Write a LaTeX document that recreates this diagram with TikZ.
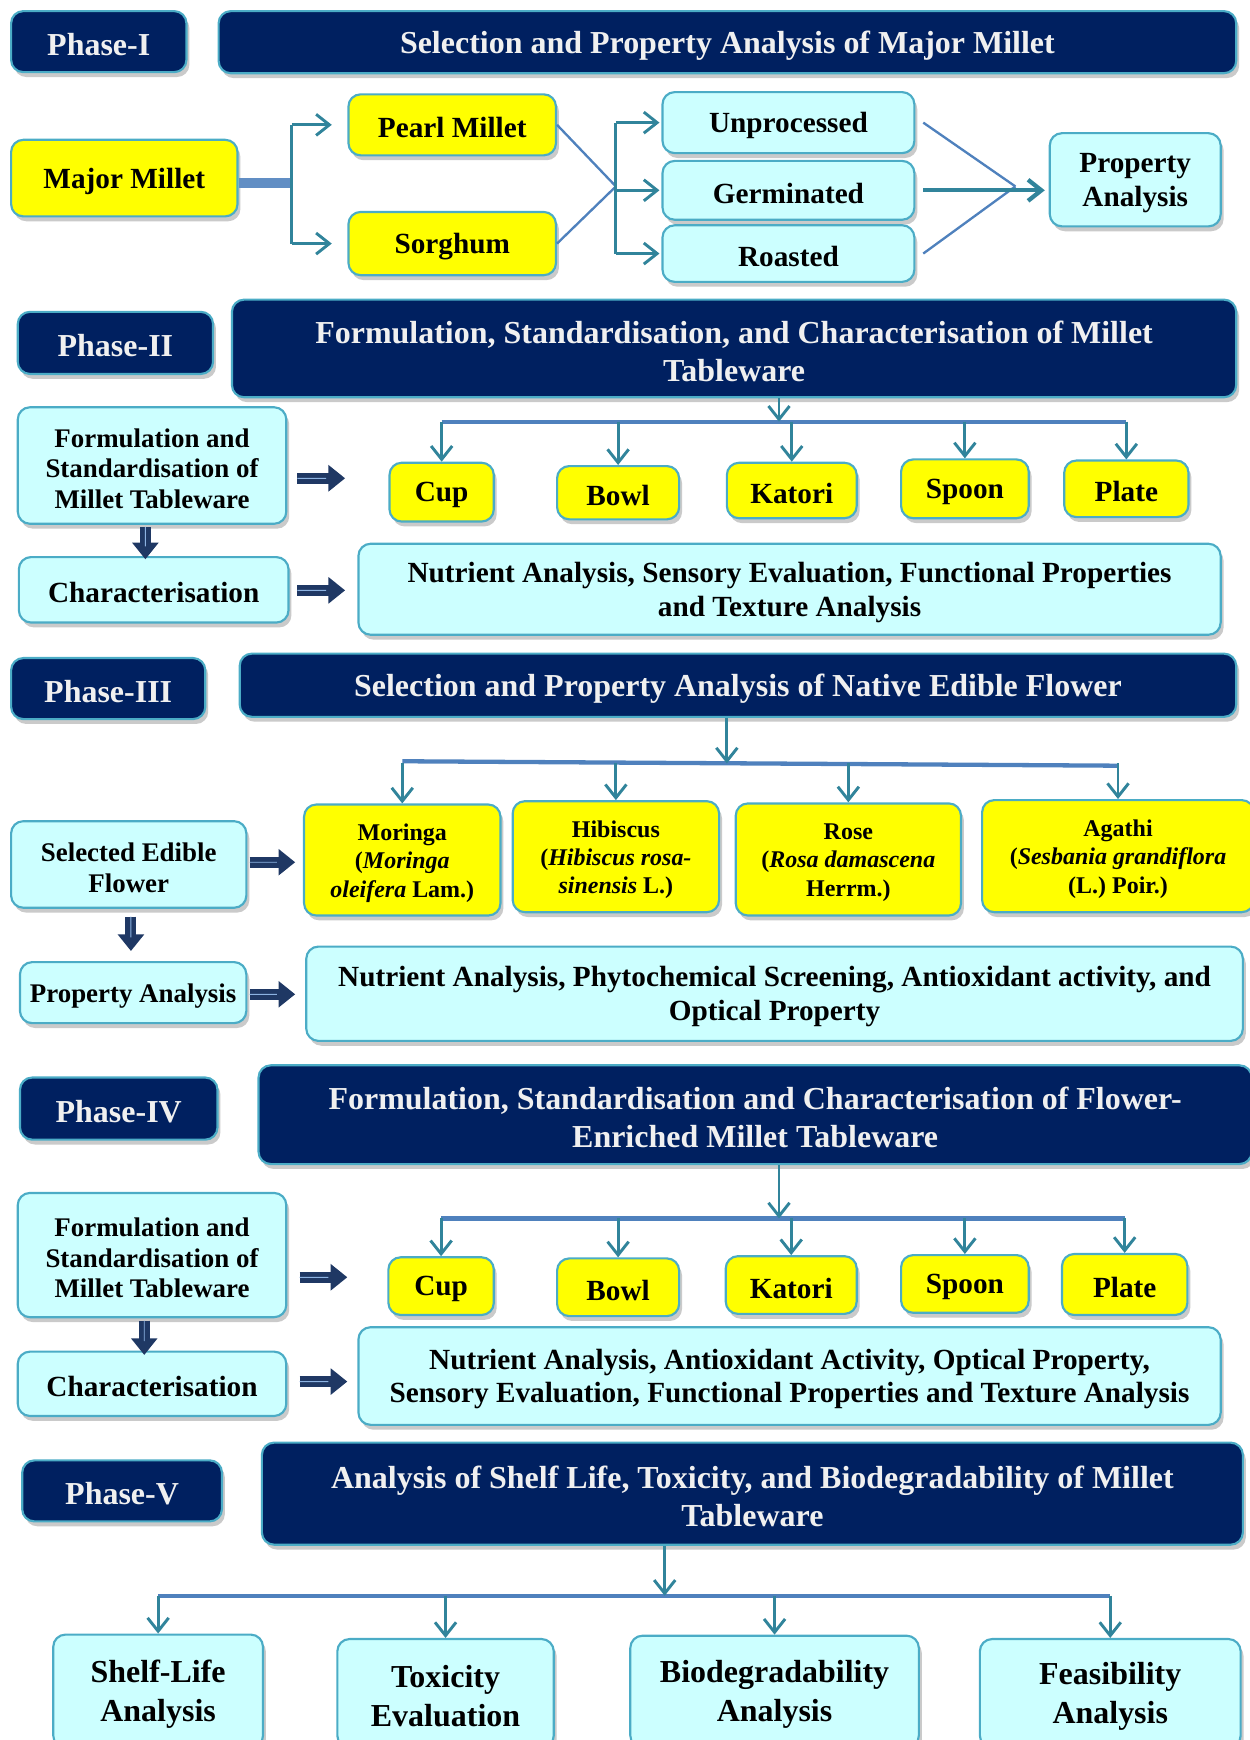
\documentclass[tikz,border=0pt]{standalone}
\usepackage{fontspec}
\setmainfont{Liberation Serif}
\usetikzlibrary{arrows.meta,shadows,calc}
\definecolor{navy}{HTML}{002060}
\definecolor{navyA}{HTML}{1F3864}
\definecolor{bord}{HTML}{4BACC6}
\definecolor{cyanf}{HTML}{CCFFFF}
\definecolor{yel}{HTML}{FFFF00}
\definecolor{tealc}{HTML}{31849B}
\definecolor{barc}{HTML}{4F81BD}
\definecolor{lightln}{HTML}{8DB3E2}
\newcommand\fH{\fontsize{16.4}{19.4}\selectfont\bfseries}
\newcommand\fB{\fontsize{15}{17.3}\selectfont\bfseries}
\newcommand\fS{\fontsize{13.8}{15.7}\selectfont\bfseries}
\newcommand\fT{\fontsize{12.3}{14.5}\selectfont\bfseries}
\newcommand\fL{\fontsize{16.4}{20}\selectfont\bfseries}
% #1 kind (navy/cyan/yel), #2 font, #3 name, #4-#7 corners, #8 text
\newcommand\bx[8]{\node[#1box, minimum width={(#6-#4)*0.02cm}, minimum height={(#7-#5)*0.02cm}] (#3) at ({(#4+#6)/2},{(#5+#7)/2}) {};
  \node[#1txt, font=#2, align=center, inner sep=0pt] at ([yshift=-0.055cm]#3.center) {#8};}
\tikzset{
  basebox/.style={rounded corners=0.22cm, draw=bord, line width=1.1pt, inner sep=0pt,
    drop shadow={shadow xshift=1.5pt, shadow yshift=-2.5pt, opacity=0.35, fill=black!60}},
  navybox/.style={basebox, fill=navy},
  cyanbox/.style={basebox, fill=cyanf},
  yelbox/.style={basebox, fill=yel},
  navytxt/.style={text=white!94!black},
  cyantxt/.style={text=black},
  yeltxt/.style={text=black},
  conn/.style={draw=tealc, line width=1.5pt, -{Straight Barb[length=0.24cm,width=0.38cm]}},
  plainconn/.style={draw=tealc, line width=1.5pt},
  barline/.style={draw=barc, line width=2.2pt},
  blk/.style={draw=navyA, line width=0.2cm, -{Triangle[length=0.3cm,width=0.46cm]}},
  blkin/.style={draw=lightln, line width=0.5pt},
}
\begin{document}
\begin{tikzpicture}[x=0.02cm,y=-0.02cm]
\useasboundingbox (0,0) rectangle (1126,1568);
% ---------------- Phase I
\bx{navy}{\fH}{p1}{10}{10}{168}{65}{Phase-I}
\bx{navy}{\fH}{h1}{197}{10}{1114}{66}{Selection and Property Analysis of Major Millet}
\bx{yel}{\fB}{mm}{10}{126}{214}{195}{Major Millet}
\bx{yel}{\fB}{pearl}{314}{85}{501}{140}{Pearl Millet}
\bx{yel}{\fB}{sorg}{314}{191}{501}{248}{Sorghum}
\bx{cyan}{\fB}{unp}{597}{83}{824}{138}{Unprocessed}
\bx{cyan}{\fB}{germ}{597}{145}{824}{198}{Germinated}
\bx{cyan}{\fB}{roast}{597}{203}{824}{254}{Roasted}
\bx{cyan}{\fB}{pa1}{946}{120}{1100}{204}{Property\\Analysis}
\coordinate (j1) at (263,165);
\coordinate (j2) at (555,168);
\coordinate (j3) at (915,168);
\draw[draw=barc!90!white, line width=5.5pt] (mm.east |- j1) -- (j1);
\draw[plainconn] (j1 |- pearl.west) -- (j1 |- sorg.west);
\draw[conn, shorten >=8pt] (j1 |- pearl.west) -- (pearl.west);
\draw[conn, shorten >=8pt] (j1 |- sorg.west) -- (sorg.west);
\draw[draw=barc, line width=1.2pt] (pearl.east) -- (j2);
\draw[draw=barc, line width=1.2pt] (sorg.east) -- (j2);
\draw[plainconn] (j2 |- unp.west) -- (j2 |- roast.west);
\draw[conn, shorten >=1pt] (j2 |- unp.west) -- (unp.west);
\draw[conn, shorten >=1pt] (j2 |- germ.west) -- (germ.west);
\draw[conn, shorten >=1pt] (j2 |- roast.west) -- (roast.west);
\draw[draw=barc, line width=1.2pt] ([xshift=4pt]unp.east) -- (j3);
\draw[draw=barc, line width=1.2pt] ([xshift=4pt]roast.east) -- (j3);
\draw[conn, line width=2.2pt, shorten >=2pt] ([xshift=4pt]germ.east) -- (germ.east -| pa1.west);
% ---------------- Phase II
\bx{navy}{\fH}{p2}{16}{281}{192}{337}{Phase-II}
\bx{navy}{\fH}{h2}{209}{270}{1114}{358}{Formulation, Standardisation, and Characterisation of Millet\\Tableware}
\bx{cyan}{\fS}{f2}{16}{367}{258}{472}{Formulation and\\Standardisation of\\Millet Tableware}
\bx{cyan}{\fB}{c2}{17}{502}{260}{561}{Characterisation}
\bx{yel}{\fB}{cup2}{351}{417}{445}{470}{Cup}
\bx{yel}{\fB}{bowl2}{502}{420}{612}{468}{Bowl}
\bx{yel}{\fB}{kat2}{655}{417}{772}{467}{Katori}
\bx{yel}{\fB}{spoon2}{812}{414}{927}{467}{Spoon}
\bx{yel}{\fB}{plate2}{959}{415}{1071}{466}{Plate}
\bx{cyan}{\fB}{n2}{323}{490}{1100}{572}{Nutrient Analysis, Sensory Evaluation, Functional Properties\\and Texture Analysis}
\coordinate (b2) at (702,380);
\draw[barline] (cup2.north |- b2) -- (plate2.north |- b2);
\draw[conn] (h2.south -| b2) -- (b2);
\foreach \n in {cup2,bowl2,kat2,spoon2,plate2} \draw[conn] (\n.north |- b2) -- (\n.north);
\coordinate (a2s) at (268,431); \coordinate (a2e) at (311,431);
\coordinate (a2b) at (268,532); \coordinate (a2f) at (311,532);
\coordinate (a2d) at (131,475); \coordinate (a2g) at (131,504);
\foreach \s/\e in {a2s/a2e,a2b/a2f,a2d/a2g} {\draw[blk] (\s) -- (\e); \draw[blkin] (\s) -- ($(\s)!0.6!(\e)$);}
% ---------------- Phase III
\bx{navy}{\fH}{p3}{10}{593}{185}{648}{Phase-III}
\bx{navy}{\fH}{h3}{216}{589}{1114}{646}{Selection and Property Analysis of Native Edible Flower}
\bx{cyan}{\fS}{s3}{10}{740}{222}{818}{Selected Edible\\Flower}
\bx{yel}{\fT}{mor}{274}{725}{451}{825}{Moringa\\(\textit{Moringa}\\\textit{oleifera} Lam.)}
\bx{yel}{\fT}{hib}{462}{722}{648}{822}{Hibiscus\\(\textit{Hibiscus rosa-}\\\textit{sinensis} L.)}
\bx{yel}{\fT}{rose}{663}{724}{866}{825}{Rose\\(\textit{Rosa damascena}\\Herrm.)}
\bx{yel}{\fT}{aga}{885}{721}{1130}{822}{Agathi\\(\textit{Sesbania grandiflora}\\(L.) Poir.)}
\bx{cyan}{\fS}{pa3}{18}{867}{222}{922}{Property Analysis}
\bx{cyan}{\fB}{n3}{276}{853}{1120}{938}{Nutrient Analysis, Phytochemical Screening, Antioxidant activity, and\\Optical Property}
\coordinate (b3) at (655,688);
\draw[barline] (mor.north |- 0,686) -- (aga.north |- 0,690);
\draw[conn] (h3.south -| b3) -- (b3);
\foreach \n in {mor,hib,rose,aga} \draw[conn] (\n.north |- b3) -- (\n.north);
\coordinate (a3s) at (225,777); \coordinate (a3e) at (266,777);
\coordinate (a3b) at (225,896); \coordinate (a3f) at (266,896);
\coordinate (a3d) at (118,826); \coordinate (a3g) at (118,857);
\foreach \s/\e in {a3s/a3e,a3b/a3f,a3d/a3g} {\draw[blk] (\s) -- (\e); \draw[blkin] (\s) -- ($(\s)!0.6!(\e)$);}
% ---------------- Phase IV
\bx{navy}{\fH}{p4}{18}{971}{196}{1027}{Phase-IV}
\bx{navy}{\fH}{h4}{233}{960}{1128}{1049}{Formulation, Standardisation and Characterisation of Flower-\\Enriched Millet Tableware}
\bx{cyan}{\fS}{f4}{16}{1075}{258}{1187}{Formulation and\\Standardisation of\\Millet Tableware}
\bx{cyan}{\fB}{c4}{16}{1218}{258}{1276}{Characterisation}
\bx{yel}{\fB}{cup4}{350}{1133}{445}{1185}{Cup}
\bx{yel}{\fB}{bowl4}{502}{1134}{612}{1186}{Bowl}
\bx{yel}{\fB}{kat4}{654}{1132}{772}{1184}{Katori}
\bx{yel}{\fB}{spoon4}{812}{1131}{927}{1183}{Spoon}
\bx{yel}{\fB}{plate4}{957}{1130}{1070}{1185}{Plate}
\bx{cyan}{\fB}{n4}{323}{1196}{1100}{1284}{Nutrient Analysis, Antioxidant Activity, Optical Property,\\Sensory Evaluation, Functional Properties and Texture Analysis}
\coordinate (b4) at (702,1098);
\draw[barline] (cup4.north |- b4) -- (plate4.north |- b4);
\draw[conn] (h4.south -| b4) -- (b4);
\foreach \n in {cup4,bowl4,kat4,spoon4,plate4} \draw[conn] (\n.north |- b4) -- (\n.north);
\coordinate (a4s) at (270,1151); \coordinate (a4e) at (313,1151);
\coordinate (a4b) at (270,1245); \coordinate (a4f) at (313,1245);
\coordinate (a4d) at (130,1190); \coordinate (a4g) at (130,1221);
\foreach \s/\e in {a4s/a4e,a4b/a4f,a4d/a4g} {\draw[blk] (\s) -- (\e); \draw[blkin] (\s) -- ($(\s)!0.6!(\e)$);}
% ---------------- Phase V
\bx{navy}{\fH}{p5}{20}{1316}{200}{1371}{Phase-V}
\bx{navy}{\fH}{h5}{236}{1300}{1120}{1392}{Analysis of Shelf Life, Toxicity, and Biodegradability of Millet\\Tableware}
\bx{cyan}{\fL}{sl}{48}{1473}{237}{1575}{Shelf-Life\\Analysis}
\bx{cyan}{\fL}{tox}{304}{1477}{499}{1575}{Toxicity\\Evaluation}
\bx{cyan}{\fL}{bio}{568}{1474}{828}{1575}{Biodegradability\\Analysis}
\bx{cyan}{\fL}{fea}{883}{1477}{1118}{1575}{Feasibility\\Analysis}
\coordinate (b5) at (599,1438);
\draw[barline] (sl.north |- b5) -- (fea.north |- b5);
\draw[conn] (h5.south -| b5) -- (b5);
\foreach \n in {sl,tox,bio,fea} \draw[conn] (\n.north |- b5) -- (\n.north);
\end{tikzpicture}
\end{document}
